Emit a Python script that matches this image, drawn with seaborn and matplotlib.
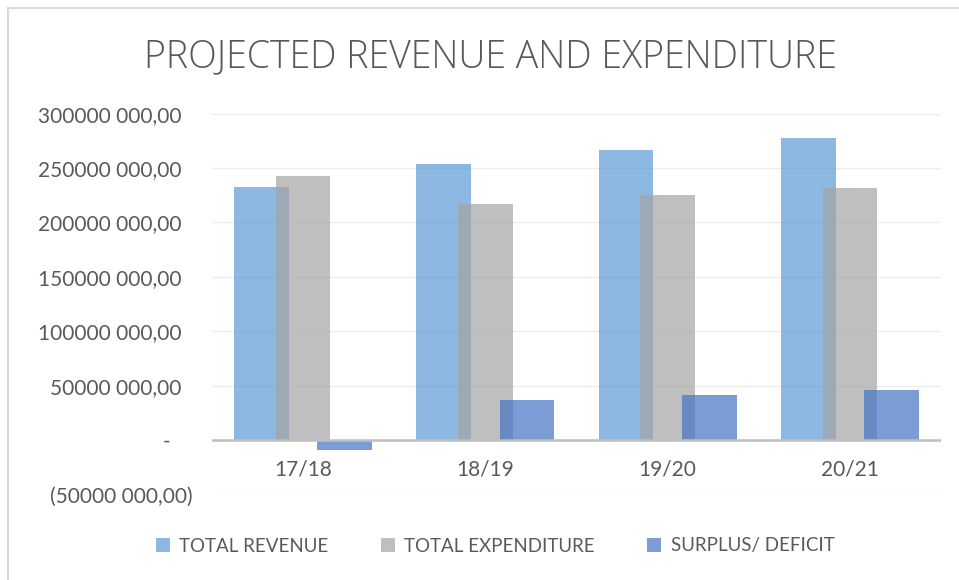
import matplotlib
matplotlib.use("Agg")
import matplotlib.pyplot as plt
from matplotlib.patches import Patch, Rectangle
from matplotlib.ticker import FuncFormatter, MultipleLocator
from matplotlib.transforms import ScaledTranslation
import seaborn as sns
import pandas as pd
import numpy as np

categories = ["17/18", "18/19", "19/20", "20/21"]
total_revenue = [232.8e6, 253.8e6, 266.5e6, 277.9e6]
total_expenditure = [242.2e6, 217.3e6, 225.5e6, 231.9e6]
surplus_deficit = [-9.4e6, 36.5e6, 41.0e6, 46.0e6]
series_names = ["TOTAL REVENUE", "TOTAL EXPENDITURE", "SURPLUS/ DEFICIT"]
series_colors = ["#5B9BD5", "#A5A5A5", "#4472C4"]

sns.set_theme(style="white")
plt.rcParams["font.family"] = ["Lato", "DejaVu Sans"]

fig = plt.figure(figsize=(9.59, 5.8), dpi=100)
ax = fig.add_axes([212/959, 85.6/580, 729/959, 380.8/580])

offsets = [-0.228, 0.0, 0.228]
bar_w = 0.30
for vals, name, col, off in zip([total_revenue, total_expenditure, surplus_deficit],
                                series_names, series_colors, offsets):
    df = pd.DataFrame({"x": np.arange(len(categories)) + off, "y": vals})
    sns.barplot(data=df, x="x", y="y", native_scale=True, width=bar_w,
                color=col, alpha=0.7, saturation=1, linewidth=0, ax=ax, zorder=3)

ax.set_xlim(-0.5, len(categories) - 0.5)
ax.set_ylim(-50e6, 300e6)
ax.yaxis.set_major_locator(MultipleLocator(50e6))

def fmt(v, pos):
    v = int(round(v))
    if v == 0:
        return "-    "
    a = abs(v)
    s = f"{a // 1000} {a % 1000:03d},00"
    return f"({s})" if v < 0 else s + "  "

ax.yaxis.set_major_formatter(FuncFormatter(fmt))
ax.set_xticks(range(len(categories)))
ax.set_xticklabels(categories)
ax.set_xlabel("")
ax.set_ylabel("")
ax.grid(axis="y", color="#EDEDED", linewidth=1, zorder=0)
ax.grid(axis="x", visible=False)
for sp in ax.spines.values():
    sp.set_visible(False)
ax.axhline(0, color="#BFBFBF", linewidth=1.8, zorder=4)
ax.tick_params(axis="y", labelsize=15, labelcolor="#595959", length=0, pad=14)
ax.tick_params(axis="x", labelsize=15, labelcolor="#595959", length=0, pad=5)
shift = ScaledTranslation(0, 0.415, fig.dpi_scale_trans)
for lbl in ax.get_xticklabels():
    lbl.set_transform(lbl.get_transform() + shift)

fig.text(490/959, 1 - 57/580, "PROJECTED REVENUE AND EXPENDITURE", ha="center", va="center",
         fontsize=27, color="#595959", fontweight="light", family=["Open Sans", "DejaVu Sans"])

handles = [Patch(facecolor=c, alpha=0.7, edgecolor="none", label=n) for n, c in zip(series_names, series_colors)]
fig.legend(handles=handles, loc="center", bbox_to_anchor=(495/959, 1 - 546/580), ncol=3,
           frameon=False, fontsize=13.5, labelcolor="#595959", handlelength=0.75, handleheight=0.75,
           handletextpad=0.5, columnspacing=2.8)

fig.patches.append(Rectangle((8/959, -0.1), 1.2, 1 - 8/580 + 0.1, transform=fig.transFigure,
                             fill=False, edgecolor="#D9D9D9", linewidth=1.5))
fig.savefig("out.png", dpi=100)
